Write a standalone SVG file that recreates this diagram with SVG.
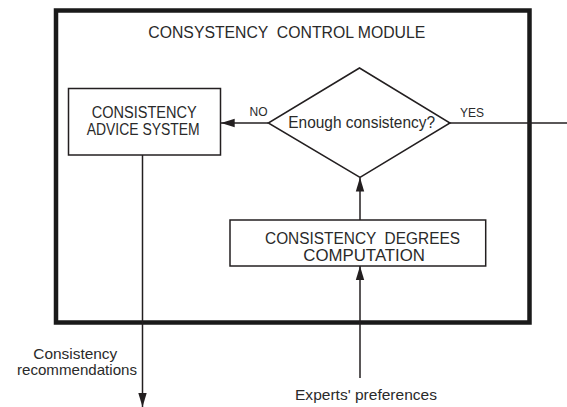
<svg xmlns="http://www.w3.org/2000/svg" width="567" height="407" viewBox="0 0 567 407">
<style>
text{font-family:"Liberation Sans",Arial,sans-serif;fill:#2a2a2a;white-space:pre;}
.t{font-size:16px;}
.s{font-size:15px;}
.l{font-size:12px;}
.box{fill:#fff;stroke:#231f20;stroke-width:1.5;}
.edge{fill:none;stroke:#231f20;stroke-width:1.5;}
</style>
<defs>
<marker id="ah" markerWidth="14" markerHeight="10" refX="14" refY="5" orient="auto" markerUnits="userSpaceOnUse">
<path d="M0,0.8 L14,5 L0,9.2 Z" fill="#231f20"/>
</marker>
</defs>
<g id="module">
<rect x="56" y="10.5" width="473.5" height="312" fill="none" stroke="#1a1a1a" stroke-width="4.5"/>
<text class="t" x="148.3" y="38" textLength="277" lengthAdjust="spacingAndGlyphs" xml:space="preserve">CONSYSTENCY  CONTROL MODULE</text>
</g>
<g id="connectors">
<line class="edge" x1="268.3" y1="123" x2="220.7" y2="123" marker-end="url(#ah)"/>
<line class="edge" x1="450" y1="123" x2="567" y2="123"/>
<line class="edge" x1="360" y1="220" x2="360" y2="177.5" marker-end="url(#ah)"/>
<line class="edge" x1="360" y1="378" x2="360" y2="266" marker-end="url(#ah)"/>
<line class="edge" x1="142.5" y1="155" x2="142.5" y2="407" marker-end="url(#ah)"/>
<text class="l" x="258.5" y="116" text-anchor="middle">NO</text>
<text class="l" x="472" y="116.5" text-anchor="middle">YES</text>
</g>
<g id="advice">
<rect class="box" x="68.5" y="88.5" width="152" height="66.5"/>
<text class="t" x="91.7" y="118.3" textLength="105" lengthAdjust="spacingAndGlyphs">CONSISTENCY</text>
<text class="t" x="86.7" y="135" textLength="113" lengthAdjust="spacingAndGlyphs">ADVICE SYSTEM</text>
</g>
<g id="decision">
<polygon points="359.5,68 450,123 360,177.5 268.3,123" fill="#fff" stroke="#231f20" stroke-width="1.5"/>
<text class="t" x="288.3" y="128.3" textLength="146.7" lengthAdjust="spacingAndGlyphs">Enough consistency?</text>
</g>
<g id="degrees">
<rect class="box" x="230" y="220" width="255.7" height="46"/>
<text class="t" x="265" y="243.5" textLength="195" lengthAdjust="spacingAndGlyphs" xml:space="preserve">CONSISTENCY  DEGREES</text>
<text class="t" x="303.3" y="261" textLength="121.7" lengthAdjust="spacingAndGlyphs">COMPUTATION</text>
</g>
<g id="recommendations">
<text class="s" x="33.3" y="359" textLength="84" lengthAdjust="spacingAndGlyphs">Consistency</text>
<text class="s" x="17" y="375" textLength="120" lengthAdjust="spacingAndGlyphs">recommendations</text>
</g>
<g id="preferences">
<text class="s" x="295" y="400" textLength="142" lengthAdjust="spacingAndGlyphs">Experts' preferences</text>
</g>
</svg>
